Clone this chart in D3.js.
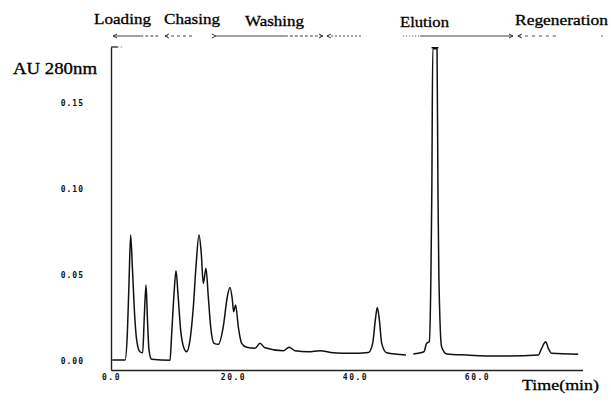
<!DOCTYPE html>
<html>
<head>
<meta charset="utf-8">
<script src="https://cdn.jsdelivr.net/npm/d3@7"></script>
<style>
  body { margin: 0; background: #fff; }
  svg { display: block; }
  .tick text { font-family: "DejaVu Sans Mono", monospace; font-weight: bold; font-size: 8px; fill: #111; }
  .lbl { font-family: "Liberation Serif", "DejaVu Serif", serif; fill: #000; stroke: #000; stroke-width: 0.3px; }
</style>
</head>
<body>
<script>
var width = 611,
    height = 403;

// chromatogram (null = gap in the recorder trace)
var timeMin = [0.2, 2.3, 2.68, 2.95, 3.22, 3.5, 3.83, 4.21, 4.75, 5.19, 5.46, 5.74, 5.96, 6.23, 6.67,
  9.67, 9.95, 10.33, 10.66, 10.98, 11.42, 11.97, 12.4,
  12.95, 13.5, 13.93, 14.43, 14.8, 15.13, 15.57, 15.95, 16.34, 16.89, 17.6,
  18.4, 19.07, 19.5, 19.9, 20.1, 20.43, 20.87, 21.42, 22.25, 23.6, 24.43, 25.25, 28.25, 29.2, 30.16, 32.35,
  34.26, 36.45, 39.2, 42.2, 42.9, 43.33, 43.66, 44.0, 44.38, 45.2, 48.36, 48.9,
  49.56, 51.3, 51.75, 52.18, 52.45, 52.6, 52.75, 53.45, 53.6, 53.75, 54.2, 55.03,
  58.3, 63.77, 70.05, 70.6, 71.26, 71.7, 72.25, 76.6];
var absorbance = [0.0006, 0.0006, 0.0161, 0.0452, 0.0733, 0.0548, 0.0297, 0.0122, 0.0054, 0.0048, 0.0258, 0.0442, 0.0258, 0.0064, 0.001,
  0.0004, 0.016, 0.039, 0.0525, 0.039, 0.018, 0.0074, 0.0054,
  0.0122, 0.0316, 0.0548, 0.0733, 0.0626, 0.0452, 0.0539, 0.0374, 0.0199, 0.0103, 0.0097,
  0.0199, 0.0374, 0.0428, 0.0355, 0.0287, 0.0326, 0.0199, 0.0103, 0.008, 0.0074, 0.0103, 0.0077, 0.006, 0.008, 0.006, 0.0054,
  0.006, 0.0048, 0.0045, 0.005, 0.0103, 0.0238, 0.0312, 0.0238, 0.0103, 0.0048, 0.0035, null,
  0.0041, 0.0054, 0.0103, 0.0112, 0.05, 0.1, 0.1816, 0.1816, 0.1, 0.05, 0.0083, 0.0041,
  0.0035, 0.0029, 0.0035, 0.0074, 0.0112, 0.0074, 0.0045, 0.0039];

var xTicks = [0, 20, 40, 60];
var yTicks = [0, 0.05, 0.10, 0.15];
var phaseNames = ["Loading", "Chasing", "Washing", "Elution", "Regeneration"];

var svg = d3.select("body").append("svg")
    .attr("width", width)
    .attr("height", height);

var x = d3.scaleLinear()
    .domain([0, 77.3])
    .range([111, 582.5]);

var y = d3.scaleLinear()
    .domain([-0.0052, 0.1826])
    .range([370, 47]);

// axes (no tick marks, only the printed labels)
var xAxis = svg.append("g")
    .attr("transform", "translate(0," + y(-0.0052) + ")")
    .call(d3.axisBottom(x).tickValues(xTicks).tickSize(0).tickSizeOuter(0).tickPadding(4).tickFormat(d3.format(".1f")));
xAxis.select(".domain").attr("stroke", "#222").attr("stroke-width", 1.4);
xAxis.selectAll(".tick text").attr("letter-spacing", "1.5px");

var yAxis = svg.append("g")
    .attr("transform", "translate(" + x(0) + ",0)")
    .call(d3.axisLeft(y).tickValues(yTicks).tickSize(0).tickSizeOuter(0).tickPadding(27).tickFormat(d3.format(".2f")));
yAxis.select(".domain").attr("stroke", "#222").attr("stroke-width", 1.4);
yAxis.selectAll(".tick text").attr("letter-spacing", "1px");

// little cap at the top of the off-scale start
svg.append("path")
    .attr("d", "M" + x(0) + "," + y(0.1826) + "H" + x(1.1))
    .attr("stroke", "#222").attr("stroke-width", 1.3);
svg.append("path")
    .attr("d", "M" + x(1.1) + "," + y(0.1826) + "H" + x(2))
    .attr("stroke", "#555").attr("stroke-width", 1).attr("stroke-dasharray", "1,2");

// trace
var pts = timeMin.map(function(t, i) { return [t, absorbance[i]]; });
var line = d3.line()
    .defined(function(d) { return d[1] !== null; })
    .x(function(d) { return x(d[0]); })
    .y(function(d) { return y(d[1]); })
    .curve(d3.curveMonotoneX);

svg.append("path")
    .datum(pts)
    .attr("d", line)
    .attr("fill", "none")
    .attr("stroke", "#111")
    .attr("stroke-width", 1.5)
    .attr("stroke-linejoin", "round");

// clipped elution peak cap
svg.append("path")
    .attr("d", "M" + x(52.55) + "," + (y(0.1816) - 1) + "H" + x(53.7))
    .attr("stroke", "#111").attr("stroke-width", 1.4);

// phase labels
var labelX = [94, 164, 245, 400, 515],
    labelY = [24, 24, 26, 27, 25],
    labelW = [57, 56, 59, 49, 93];
svg.selectAll("text.phase")
    .data(phaseNames)
    .enter().append("text")
    .attr("class", "lbl phase")
    .attr("x", function(d, i) { return labelX[i]; })
    .attr("y", function(d, i) { return labelY[i]; })
    .attr("font-size", 15)
    .attr("textLength", function(d, i) { return labelW[i]; })
    .attr("lengthAdjust", "spacingAndGlyphs")
    .text(function(d) { return d; });

// phase arrows (faint, partly dashed like the scan)
var rowY = 36;
var segs = [
  {t0: 0.33, t1: 4.8, dash: null},
  {t0: 4.8, t1: 8.0, dash: "3,2"},
  {t0: 8.85, t1: 13.3, dash: "3,3"},
  {t0: 17.2, t1: 28.5, dash: null},
  {t0: 28.5, t1: 34.75, dash: "3,2"},
  {t0: 35.4, t1: 41.1, dash: "2,2"},
  {t0: 47.9, t1: 50.7, dash: "1,2"},
  {t0: 50.7, t1: 65.9, dash: null},
  {t0: 66.7, t1: 73.1, dash: "3,4"}
];
svg.selectAll("path.seg")
    .data(segs)
    .enter().append("path")
    .attr("class", "seg")
    .attr("d", function(d) { return "M" + x(d.t0) + "," + rowY + "H" + x(d.t1); })
    .attr("stroke", "#444")
    .attr("stroke-width", 1)
    .attr("stroke-dasharray", function(d) { return d.dash; });

// arrow heads: dir -1 points left, +1 points right
var heads = [
  {t: 0.33, dir: -1}, {t: 8.85, dir: -1}, {t: 17.2, dir: 1},
  {t: 34.75, dir: 1}, {t: 35.4, dir: -1}, {t: 65.9, dir: 1}, {t: 66.7, dir: -1}
];
svg.selectAll("path.head")
    .data(heads)
    .enter().append("path")
    .attr("class", "head")
    .attr("d", function(d) {
      var px = x(d.t);
      return "M" + (px - 4 * d.dir) + "," + (rowY - 2) + "L" + px + "," + rowY + "L" + (px - 4 * d.dir) + "," + (rowY + 2);
    })
    .attr("fill", "none")
    .attr("stroke", "#333")
    .attr("stroke-width", 1);

svg.append("circle")
    .attr("cx", x(80.5)).attr("cy", rowY)
    .attr("r", 0.8).attr("fill", "#555");

// axis titles
svg.append("text")
    .attr("class", "lbl")
    .attr("x", 13).attr("y", 74)
    .attr("font-size", 16)
    .attr("textLength", 84)
    .attr("lengthAdjust", "spacingAndGlyphs")
    .text("AU 280nm");

svg.append("text")
    .attr("class", "lbl")
    .attr("x", 522).attr("y", 390)
    .attr("font-size", 15)
    .attr("textLength", 77)
    .attr("lengthAdjust", "spacingAndGlyphs")
    .text("Time(min)");
</script>
</body>
</html>
